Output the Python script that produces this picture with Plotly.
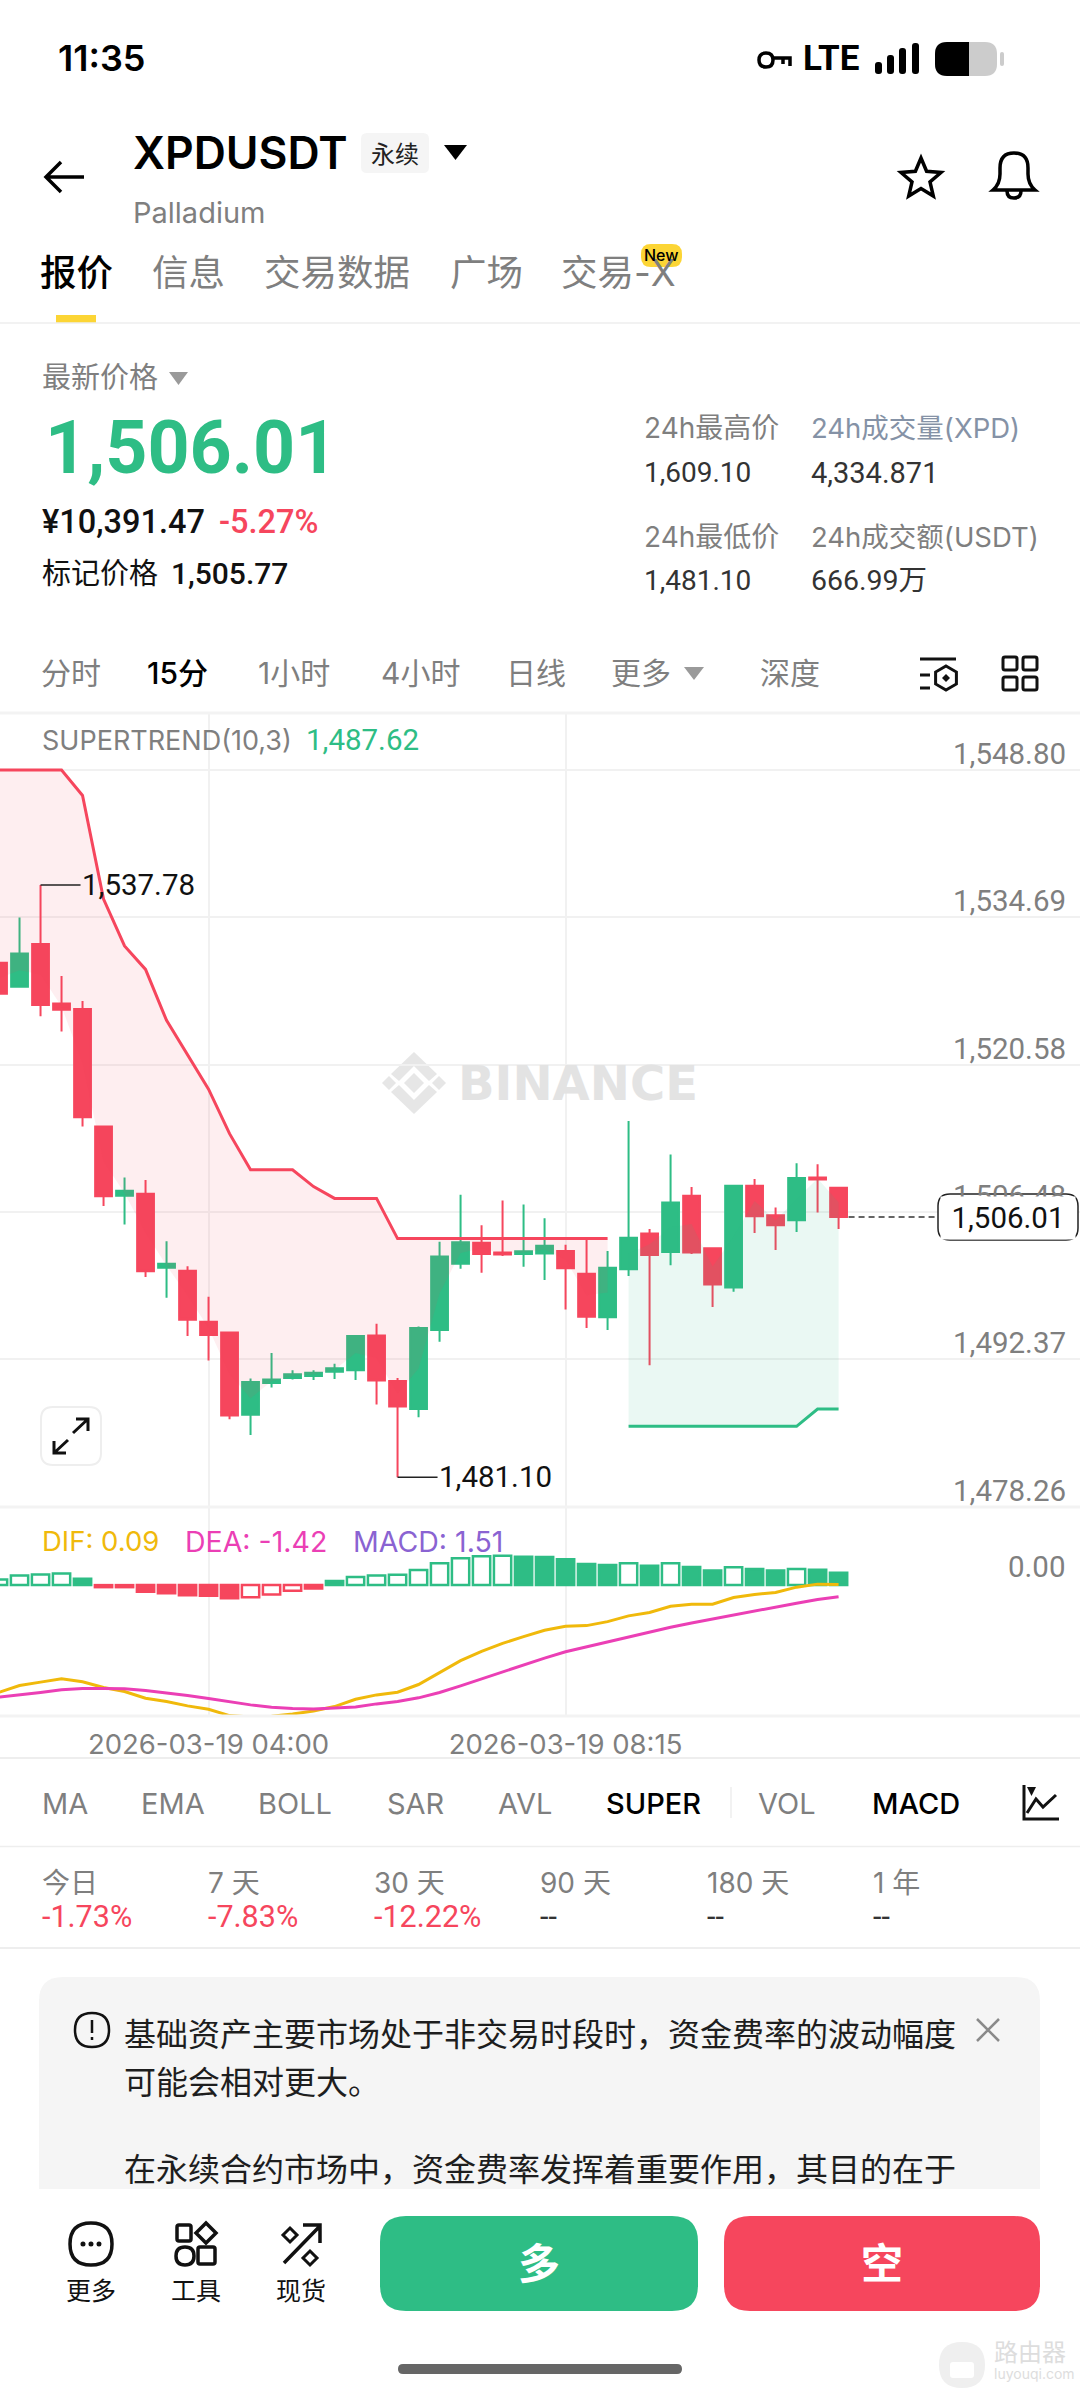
import math
import pandas as pd
import plotly.graph_objects as go

W, H = 1080, 2400
GREEN = "#2EBD85"
RED = "#F6465D"
YELLOW = "#FCD535"
GREY = "#7F7F7F"
BLACK = "#000000"
FONT = "Inter, 'Noto Sans CJK SC', sans-serif"
NUM = "Roboto, 'Noto Sans CJK SC', sans-serif"
LINE = "#F1F1F1"

# 15m candles from 2026-03-19 01:30
times = pd.date_range("2026-03-19 01:30", periods=41, freq="15min").strftime("%Y-%m-%d %H:%M").tolist()
opens = [1530.35, 1528.05, 1532.15, 1526.44, 1525.91, 1514.68, 1508.04, 1508.23, 1501.15, 1500.86,
         1495.98, 1494.95, 1487.09, 1490.12, 1490.61, 1490.80, 1491.19, 1491.34, 1494.66, 1490.32,
         1487.63, 1495.20, 1501.54, 1503.55, 1502.62, 1502.47, 1502.52, 1502.76, 1500.57, 1496.42,
         1501.01, 1504.42, 1502.67, 1508.04, 1503.01, 1499.25, 1509.01, 1506.18, 1505.69, 1509.79, 1508.82]
highs = [1530.60, 1534.69, 1537.78, 1529.08, 1526.69, 1514.68, 1509.79, 1509.55, 1503.69, 1501.30,
         1498.37, 1495.05, 1490.56, 1493.00, 1491.34, 1491.34, 1491.97, 1494.61, 1495.78, 1490.61,
         1495.54, 1503.64, 1508.13, 1505.21, 1507.60, 1507.21, 1505.89, 1503.35, 1503.94, 1502.76,
         1515.21, 1504.86, 1511.99, 1508.87, 1503.06, 1509.01, 1509.65, 1506.91, 1511.16, 1511.06, 1508.87]
lows = [1527.20, 1527.96, 1525.22, 1523.76, 1514.68, 1507.06, 1505.30, 1500.27, 1498.27, 1494.61,
        1492.27, 1486.65, 1485.14, 1489.68, 1490.46, 1490.41, 1490.51, 1490.41, 1488.07, 1481.10,
        1486.85, 1494.07, 1501.06, 1500.67, 1502.28, 1501.25, 1499.98, 1497.15, 1495.39, 1495.20,
        1500.37, 1491.83, 1501.40, 1502.47, 1497.39, 1498.86, 1504.47, 1502.86, 1504.57, 1506.43, 1504.86]
closes = [1527.37, 1531.23, 1526.30, 1525.86, 1515.56, 1507.99, 1508.53, 1500.81, 1501.54, 1496.17,
          1494.71, 1487.00, 1490.22, 1490.46, 1490.95, 1491.10, 1491.54, 1494.61, 1490.36, 1487.87,
          1495.39, 1502.23, 1503.59, 1502.47, 1502.42, 1502.72, 1503.25, 1501.10, 1496.47, 1501.15,
          1504.03, 1502.37, 1507.40, 1502.62, 1499.54, 1509.01, 1506.08, 1505.21, 1509.75, 1509.60, 1506.01]

# supertrend, red part then green part
st_down = [1548.80, 1548.80, 1548.80, 1548.80, 1546.36, 1536.45, 1531.96, 1529.71, 1524.83, 1521.51,
           1518.24, 1513.99, 1510.53, 1510.53, 1510.53, 1508.92, 1507.79, 1507.79, 1507.79, 1503.94,
           1503.94, 1503.94, 1503.94, 1503.94, 1503.94, 1503.94, 1503.94, 1503.94, 1503.94, 1503.94]
st_down_mid = [1528.86, 1529.64, 1529.23, 1526.15, 1520.74, 1511.34, 1508.29, 1504.52, 1501.35, 1498.52,
               1495.35, 1490.98, 1488.66, 1490.29, 1490.78, 1490.95, 1491.37, 1492.98, 1492.51, 1489.10,
               1491.51, 1498.72, 1502.57, 1503.01, 1502.52, 1502.60, 1502.89, 1501.93, 1498.52, 1498.79]
st_up = [1485.97, 1485.97, 1485.97, 1485.97, 1485.97, 1485.97, 1485.97, 1485.97, 1485.97, 1487.63, 1487.62]
st_up_mid = [1502.52, 1503.40, 1505.04, 1505.33, 1501.28, 1504.13, 1507.55, 1505.70, 1507.72, 1509.70, 1507.42]

macd_hist = [0.70, 1.19, 1.31, 1.43, 0.78, -0.25, -0.25, -0.82, -0.98, -1.23, -1.31, -1.60, -1.47, -1.15,
             -0.70, -0.41, 0.49, 0.98, 1.19, 1.27, 1.84, 2.66, 3.27, 3.52, 3.60, 3.48, 3.44, 3.15, 2.58,
             2.45, 2.66, 2.37, 2.66, 2.21, 1.80, 2.17, 1.96, 1.80, 1.96, 1.88, 1.51]
macd_hollow = [1, 1, 1, 1, 0, 0, 0, 0, 0, 0, 0, 0, 1, 1, 1, 0, 0, 1, 1, 1, 1, 1, 1, 1, 1, 0, 0, 0, 0, 0, 1,
               0, 1, 0, 0, 1, 0, 0, 1, 0, 0]
dif = [-13.13, -12.27, -11.86, -11.45, -11.82, -12.52, -13.01, -13.82, -14.23, -14.76, -15.17, -15.95,
       -16.11, -16.03, -15.75, -15.38, -14.85, -13.95, -13.42, -13.09, -12.15, -10.67, -9.24, -8.10,
       -7.12, -6.30, -5.52, -5.03, -4.95, -4.46, -3.76, -3.35, -2.58, -2.33, -2.33, -1.51, -1.15, -0.90,
       -0.25, 0.12, 0.09]
dea = [-13.70, -13.46, -13.13, -12.80, -12.64, -12.64, -12.68, -12.88, -13.17, -13.50, -13.87, -14.27,
       -14.64, -14.93, -15.09, -15.13, -15.05, -14.89, -14.52, -14.23, -13.78, -13.13, -12.31, -11.45,
       -10.59, -9.73, -8.92, -8.14, -7.53, -6.91, -6.30, -5.73, -5.15, -4.62, -4.13, -3.60, -3.11, -2.66,
       -2.21, -1.76, -1.42]

price_ticks = [1548.80, 1534.69, 1520.58, 1506.48, 1492.37, 1478.26]
time_ticks = ["2026-03-19 04:00", "2026-03-19 08:15"]
last_price = 1506.01
high_mark = ("2026-03-19 02:00", 1537.78)
low_mark = ("2026-03-19 06:15", 1481.10)

tabs = [("报价", 39, BLACK, 500), ("信息", 151, GREY, 400), ("交易数据", 263, GREY, 400), ("广场", 449, GREY, 400), ("交易-X", 560, GREY, 400)]
intervals = [("分时", 40, GREY, 400), ("15分", 146, BLACK, 500), ("1小时", 257, GREY, 400), ("4小时", 380, GREY, 400),
             ("日线", 505, GREY, 400), ("更多", 610, GREY, 400), ("深度", 759, GREY, 400)]
indicators = [("MA", 41, GREY, 400), ("EMA", 140, GREY, 400), ("BOLL", 257, GREY, 400), ("SAR", 386, GREY, 400),
              ("AVL", 497, GREY, 400), ("SUPER", 605, BLACK, 500), ("VOL", 757, GREY, 400), ("MACD", 871, BLACK, 500)]
periods = ["今日", "7 天", "30 天", "90 天", "180 天", "1 年"]
period_changes = ["-1.73%", "-7.83%", "-12.22%", "--", "--", "--"]
period_x = [41, 207, 373, 539, 706, 872]

annotations = []
shapes = []


def fx(x):
    return x / W


def fy(y):
    return 1 - y / H


def label(x, y, text, size, color=GREY, anchor="left", weight=400, family=FONT):
    annotations.append(dict(x=fx(x), y=fy(y), xref="paper", yref="paper", text=text, showarrow=False,
                            xanchor=anchor, yanchor="middle", borderpad=0,
                            font=dict(family=family, size=size, color=color, weight=weight)))


def to_paper(path):
    # path written in screen pixels, absolute M/L/Q/Z only
    out, is_x = [], True
    for tok in path.split():
        if tok.isalpha():
            out.append(tok)
            is_x = True
        else:
            out.append(f"{fx(float(tok)):.6f}" if is_x else f"{fy(float(tok)):.6f}")
            is_x = not is_x
    return " ".join(out)


def draw(path, fill=None, stroke=None, width=0, layer="above"):
    shapes.append(dict(type="path", xref="paper", yref="paper", path=to_paper(path), layer=layer,
                       fillcolor=fill if fill else "rgba(0,0,0,0)",
                       line=dict(color=stroke if stroke else "rgba(0,0,0,0)", width=width)))


def rrect(x0, y0, x1, y1, r, fill=None, stroke=None, width=0, layer="above", square_bottom=False):
    if square_bottom:
        p = (f"M {x0} {y1} L {x0} {y0+r} Q {x0} {y0} {x0+r} {y0} L {x1-r} {y0} Q {x1} {y0} {x1} {y0+r} "
             f"L {x1} {y1} Z")
    else:
        p = (f"M {x0+r} {y0} L {x1-r} {y0} Q {x1} {y0} {x1} {y0+r} L {x1} {y1-r} Q {x1} {y1} {x1-r} {y1} "
             f"L {x0+r} {y1} Q {x0} {y1} {x0} {y1-r} L {x0} {y0+r} Q {x0} {y0} {x0+r} {y0} Z")
    draw(p, fill, stroke, width, layer)


def circle(cx, cy, r, fill=None, stroke=None, width=0):
    rrect(cx - r, cy - r, cx + r, cy + r, r, fill, stroke, width)


def poly(cx, cy, r, n, start=-90, fill=None, stroke=None, width=0):
    pts = [(cx + r * math.cos(math.radians(start + i * 360 / n)), cy + r * math.sin(math.radians(start + i * 360 / n)))
           for i in range(n)]
    p = " ".join(("M" if i == 0 else "L") + f" {a:.1f} {b:.1f}" for i, (a, b) in enumerate(pts)) + " Z"
    draw(p, fill, stroke, width)


def diamond(cx, cy, r, **kw):
    draw(f"M {cx} {cy-r} L {cx+r} {cy} L {cx} {cy+r} L {cx-r} {cy} Z", **kw)


fig = go.Figure()
fig.add_trace(go.Candlestick(
    x=times, open=opens, high=highs, low=lows, close=closes, xaxis="x", yaxis="y",
    increasing=dict(line=dict(color=GREEN, width=2), fillcolor=GREEN),
    decreasing=dict(line=dict(color=RED, width=2), fillcolor=RED),
    whiskerwidth=0, showlegend=False))
fig.add_trace(go.Scatter(x=times[:30], y=st_down_mid, mode="lines", line=dict(width=0, color="rgba(0,0,0,0)"),
                         xaxis="x", yaxis="y", showlegend=False))
fig.add_trace(go.Scatter(x=times[:30], y=st_down, mode="lines", line=dict(color=RED, width=3), fill="tonexty",
                         fillcolor="rgba(246,70,93,0.09)", xaxis="x", yaxis="y", showlegend=False))
fig.add_trace(go.Scatter(x=times[30:], y=st_up_mid, mode="lines", line=dict(width=0, color="rgba(0,0,0,0)"),
                         xaxis="x", yaxis="y", showlegend=False))
fig.add_trace(go.Scatter(x=times[30:], y=st_up, mode="lines", line=dict(color=GREEN, width=3), fill="tonexty",
                         fillcolor="rgba(46,189,133,0.10)", xaxis="x", yaxis="y", showlegend=False))

bar_line = [GREEN if v >= 0 else RED for v in macd_hist]
bar_fill = ["#FFFFFF" if h else c for h, c in zip(macd_hollow, bar_line)]
fig.add_trace(go.Bar(x=times, y=macd_hist, width=740000, xaxis="x2", yaxis="y2", showlegend=False,
                     marker=dict(color=bar_fill, line=dict(color=bar_line, width=2.5))))
fig.add_trace(go.Scatter(x=times, y=dif, mode="lines", line=dict(color="#F0B90B", width=3), xaxis="x2", yaxis="y2",
                         showlegend=False, cliponaxis=False))
fig.add_trace(go.Scatter(x=times, y=dea, mode="lines", line=dict(color="#EB3FB5", width=3), xaxis="x2", yaxis="y2",
                         showlegend=False, cliponaxis=False))

x_range = ["2026-03-19 01:31:03", "2026-03-19 14:22:26"]

# price labels sit on top of their grid lines
for p in price_ticks:
    annotations.append(dict(x=fx(1067), y=p, xref="paper", yref="y", text=f"{p:,.2f}", showarrow=False, xanchor="right",
                            yanchor="bottom", yshift=-2, borderpad=0, font=dict(family=NUM, size=29.5, color=GREY)))

# high / low markers
for t, p in (high_mark, low_mark):
    shapes.append(dict(type="line", xref="x", yref="y", xsizemode="pixel", xanchor=t, x0=0, x1=40, y0=p, y1=p,
                       line=dict(color="#222222", width=1.5)))
    annotations.append(dict(x=t, y=p, xref="x", yref="y", text=f"{p:,.2f}", showarrow=False, xanchor="left", xshift=40,
                            yanchor="middle", borderpad=0, font=dict(family=NUM, size=29.5, color="#111111")))

# last price tag
shapes.append(dict(type="line", xref="x", yref="y", xsizemode="pixel", xanchor=times[-1], x0=10, x1=100,
                   y0=last_price, y1=last_price, line=dict(color="#333333", width=1.5, dash="6px,4px")))
annotations.append(dict(x=fx(1008), y=fy(1218), xref="paper", yref="paper", text=f"{last_price:,.2f}", showarrow=False,
                        xanchor="center", yanchor="middle", bgcolor="#FFFFFF", borderpad=3, width=128, height=36,
                        font=dict(family=NUM, size=29.5, color="#111111")))
rrect(938, 1194, 1078, 1240, 12, stroke="#222222", width=1.5, fill="#FFFFFF")

# status bar
label(57, 58, "11:35", 36, BLACK, weight=600)
circle(766, 60, 7, stroke=BLACK, width=3.5)
draw("M 773 58 L 790 58 L 790 66 M 783 58 L 783 64", stroke=BLACK, width=3.5)
label(802, 59, "LTE", 35, BLACK, weight=700, family=NUM)
for x0, top in zip((875, 887, 899, 912), (62, 55, 48, 43)):
    rrect(x0, top, x0 + 7, 74, 3, fill=BLACK)
rrect(935, 42, 997, 76, 12, fill="#CCCCCC")
draw("M 947 42 L 969 42 L 969 76 L 947 76 Q 935 76 935 64 L 935 54 Q 935 42 947 42 Z", fill=BLACK)
rrect(1000, 52, 1004, 66, 2, fill="#CCCCCC")

# header
draw("M 84 177 L 47 177 M 61 162 L 46 177 L 61 192", stroke=BLACK, width=3.5)
label(132, 153, "XPDUSDT", 44.5, BLACK, weight=600)
rrect(361, 133, 429, 173, 6, fill="#F5F5F5")
label(395, 154, "永续", 24, "#222222", "center")
draw("M 444 145 L 467 145 L 455.5 160 Z", fill=BLACK)
label(132, 212, "Palladium", 29, GREY)
star = [(921 + (21 if i % 2 == 0 else 9.5) * math.cos(math.radians(-90 + i * 36)),
         179 + (21 if i % 2 == 0 else 9.5) * math.sin(math.radians(-90 + i * 36))) for i in range(10)]
draw(" ".join(("M" if i == 0 else "L") + f" {a:.1f} {b:.1f}" for i, (a, b) in enumerate(star)) + " Z", stroke=BLACK, width=3.5)
draw("M 993 190 Q 1000 184 1000 174 L 1000 168 Q 1000 153 1014 153 Q 1028 153 1028 168 L 1028 174 Q 1028 184 1035 190 Z",
     stroke=BLACK, width=3.5)
draw("M 1007 191 Q 1007 198 1014 198 Q 1021 198 1021 191", stroke=BLACK, width=3.5)

for text, x, color, weight in tabs:
    label(x, 273, text, 36.5, color, weight=weight)
rrect(641, 244, 682, 267, 10, fill=YELLOW)
label(661.5, 255.5, "New", 16, BLACK, "center", 500)
draw("M 56 315 L 96 315 L 96 323 L 56 323 Z", fill=YELLOW)
draw("M 0 323 L 1080 323", stroke="#EEEEEE", width=1.5)

# price block
label(41, 378, "最新价格", 29, GREY)
draw("M 169 372 L 188 372 L 178.5 385 Z", fill="#9A9A9A")
label(44, 448, "1,506.01", 73.5, GREEN, weight=700, family=NUM)
label(41, 522, "¥10,391.47", 32.5, "#111111", weight=500, family=NUM)
label(218, 522, "-5.27%", 32.5, RED, weight=500, family=NUM)
label(41, 573, "标记价格", 29, "#111111")
label(170, 573, "1,505.77", 30, "#111111", weight=500, family=NUM)
label(643, 428, "24h最高价", 28, GREY)
label(810, 428, "24h成交量(XPD)", 27.5, "#8592A6")
label(643, 473, "1,609.10", 28, "#333333", family=NUM)
label(810, 473, "4,334.871", 29, "#333333", family=NUM)
label(643, 537, "24h最低价", 28, GREY)
label(810, 537, "24h成交额(USDT)", 27.5, GREY)
label(643, 580, "1,481.10", 28, "#333333", family=NUM)
label(810, 580, "666.99万", 28.5, "#333333", family=NUM)

# interval row
for text, x, color, weight in intervals:
    label(x, 673, text, 30, color, weight=weight)
draw("M 684 667 L 704 667 L 694 680 Z", fill="#9A9A9A")
draw("M 920 659 L 956 659 M 920 675 L 930 675 M 920 688 L 930 688", stroke="#111111", width=3)
poly(946, 678, 12, 6, fill=None, stroke="#111111", width=3)
diamond(946, 678, 4, fill="#111111")
for x0, y0 in ((1003, 657), (1023, 657), (1003, 677), (1023, 677)):
    rrect(x0, y0, x0 + 14, y0 + 13, 2, stroke="#111111", width=3)
draw("M 0 713 L 1080 713", stroke="#F3F3F3", width=3)

# chart labels
label(41, 740, "SUPERTREND(10,3)", 27, GREY)
label(305, 740, "1,487.62", 29.5, GREEN, family=NUM)
label(41, 1541, "DIF: 0.09", 27.5, "#F0B90B")
label(184, 1541, "DEA: -1.42", 28.5, "#EB3FB5")
label(352, 1541, "MACD: 1.51", 28.5, "#8A63D2")
label(1067, 1567, "0.00", 29.5, GREY, "right", family=NUM)

# watermark
draw("M 414 1052 L 437 1074 L 429 1081 L 414 1066 L 399 1081 L 391 1074 Z", fill="#E6E6E6", layer="below")
draw("M 414 1114 L 437 1092 L 429 1085 L 414 1100 L 399 1085 L 391 1092 Z", fill="#E6E6E6", layer="below")
diamond(414, 1083, 10, fill="#E6E6E6", layer="below")
diamond(389, 1083, 7, fill="#E6E6E6", layer="below")
diamond(439, 1083, 7, fill="#E6E6E6", layer="below")
label(457, 1083, "BINANCE", 48, "#E3E3E3", weight=700, family="'DejaVu Sans', sans-serif")

# expand button
rrect(41, 1407, 101, 1465, 12, fill="#FFFFFF", stroke="#EEEEEE", width=2)
draw("M 73 1433 L 88 1419 M 76 1419 L 88 1419 L 88 1431", stroke="#111111", width=3)
draw("M 68 1440 L 54 1453 M 54 1441 L 54 1453 L 66 1453", stroke="#111111", width=3)

# separators of the chart block
draw("M 0 1507 L 1080 1507", stroke="#F3F3F3", width=3)
draw("M 0 1716 L 1080 1716", stroke="#F3F3F3", width=3)
draw("M 0 1758 L 1080 1758", stroke="#EEEEEE", width=2)

# indicator row
for text, x, color, weight in indicators:
    label(x, 1803, text, 29, color, weight=weight)
draw("M 731 1787 L 731 1818", stroke="#EEEEEE", width=1.5)
draw("M 1024 1785 L 1024 1819 L 1059 1819 M 1027 1813 L 1036 1799 L 1043 1807 L 1056 1795", stroke="#111111", width=3)
draw("M 1027 1787 L 1036 1787 L 1031.5 1796 Z", fill="#111111")
draw("M 0 1846.5 L 1080 1846.5", stroke="#EEEEEE", width=1.5)

# period row
for text, change, x in zip(periods, period_changes, period_x):
    label(x, 1883, text, 28, GREY)
    label(x, 1916, change, 30.5, RED if change != "--" else "#333333", family=NUM)
draw("M 0 1948 L 1080 1948", stroke="#EEEEEE", width=2)

# notice card
rrect(39, 1977, 1040, 2189, 24, fill="#F5F5F5", square_bottom=True)
circle(92, 2030, 17, stroke="#111111", width=2.5)
draw("M 92 2020 L 92 2033 M 92 2037 L 92 2040", stroke="#111111", width=2.5)
label(123, 2034, "基础资产主要市场处于非交易时段时，资金费率的波动幅度", 32, "#1E1E1E")
label(123, 2082, "可能会相对更大。", 32, "#1E1E1E")
label(123, 2169, "在永续合约市场中，资金费率发挥着重要作用，其目的在于", 32, "#1E1E1E")
draw("M 977 2019 L 999 2041 M 999 2019 L 977 2041", stroke="#8A8A8A", width=2.5)

# bottom bar
circle(91, 2244, 21, stroke="#111111", width=3.5)
for dx in (-8, 0, 8):
    circle(91 + dx, 2244, 2.5, fill="#111111")
rrect(177, 2225, 191, 2241, 2, stroke="#111111", width=3.5)
diamond(206, 2233, 10, stroke="#111111", width=3.5)
circle(185, 2256, 9, stroke="#111111", width=3.5)
rrect(198, 2247, 215, 2264, 2, stroke="#111111", width=3.5)
draw("M 284 2263 L 319 2227 M 303 2225 L 320 2225 L 320 2243", stroke="#111111", width=3.5)
diamond(290, 2235, 7, stroke="#111111", width=3)
diamond(310, 2258, 7, stroke="#111111", width=3)
label(91, 2291, "更多", 25, "#111111", "center")
label(196, 2291, "工具", 25, "#111111", "center")
label(301, 2291, "现货", 25, "#111111", "center")
rrect(380, 2216, 698, 2311, 26, fill=GREEN)
rrect(724, 2216, 1040, 2311, 26, fill=RED)
label(539, 2263, "多", 42, "#FFFFFF", "center", 600)
label(882, 2263, "空", 42, "#FFFFFF", "center", 600)
rrect(398, 2364, 682, 2374, 5, fill="#666666")

# corner site mark
circle(962, 2365, 23, fill="#EFEFEF")
rrect(950, 2362, 974, 2378, 3, fill="#FFFFFF")
label(993, 2352, "路由器", 24, "#DDDDDD")
label(993, 2373, "luyouqi.com", 14, "#DDDDDD")

pane_axis = dict(type="date", range=x_range, tickvals=time_ticks, showgrid=True, gridcolor=LINE, gridwidth=1.5,
                 zeroline=False, showline=False, ticks="", rangeslider=dict(visible=False))

fig.update_layout(
    width=W, height=H, autosize=False,
    margin=dict(l=0, r=0, t=0, b=0, pad=0),
    paper_bgcolor="#FFFFFF", plot_bgcolor="rgba(0,0,0,0)",
    showlegend=False, hovermode=False, dragmode=False,
    boxmode="overlay", boxgap=0.2, boxgroupgap=0, bargap=0.1,
    font=dict(family=FONT),
    xaxis=dict(pane_axis, domain=[0, 1], anchor="y", showticklabels=False),
    yaxis=dict(domain=[fy(1507), fy(712)], range=[1478.25, 1554.35], tickvals=price_ticks, showticklabels=False,
               showgrid=True, gridcolor=LINE, gridwidth=1.5, zeroline=False, showline=False, ticks=""),
    xaxis2=dict(pane_axis, domain=[0, 1], anchor="y2", showticklabels=True, ticktext=["2026-03-19 04:00", "2026-03-19 08:15"],
                ticklabelposition="outside", ticklabelstandoff=9, tickfont=dict(family=FONT, size=27.5, color=GREY)),
    yaxis2=dict(domain=[fy(1716), fy(1507)], range=[-16.0, 9.55], showticklabels=False, showgrid=False, zeroline=False,
                showline=False, ticks=""),
    annotations=annotations,
    shapes=shapes,
)

fig.write_html("out.html", config={"displayModeBar": False}, post_script="document.body.style.margin='0';")
